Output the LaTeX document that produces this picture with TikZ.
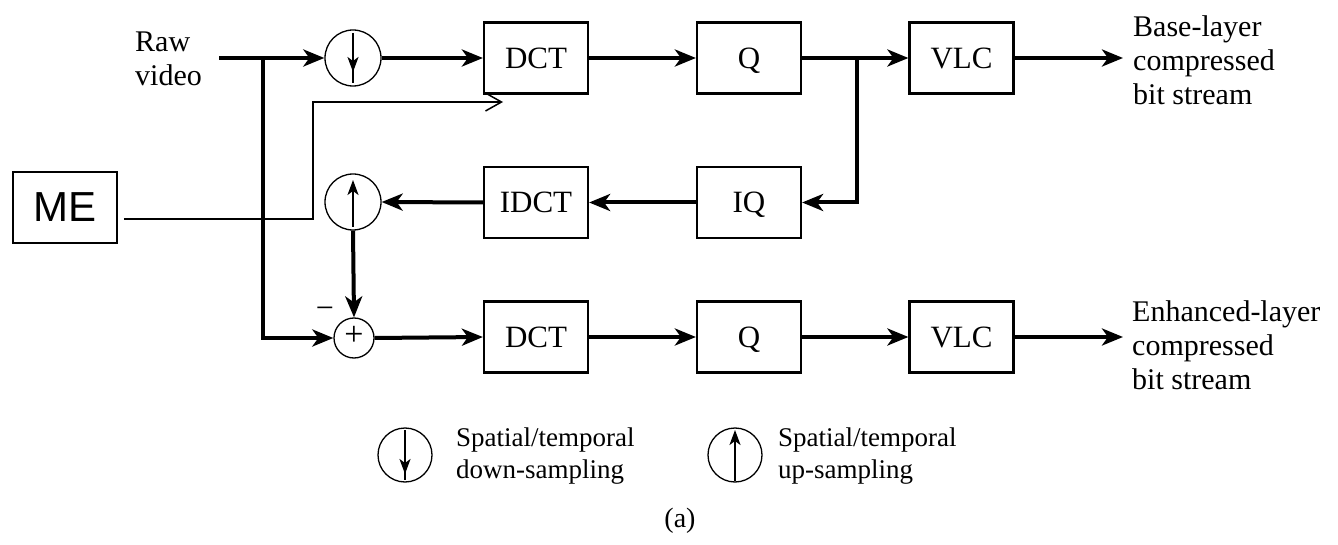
\documentclass[tikz,border=0pt]{standalone}
\usepackage{fontspec}
\setmainfont{Liberation Serif}
\newfontfamily\arialfont{Liberation Sans}
\usetikzlibrary{arrows.meta,calc}
\tikzset{
  blk/.style={draw, line width=2.2pt, minimum width=104pt, minimum height=71pt, inner sep=0pt, text height=20.5pt, text depth=0pt, font=\fontsize{31}{33}\selectfont},
  samp/.style={draw, circle, line width=1.3pt, minimum size=56pt, inner sep=0pt},
  legc/.style={draw, circle, line width=1.3pt, minimum size=54pt, inner sep=0pt},
  thk/.style={line width=4pt},
  arr/.style={line width=4pt, -{Stealth[length=21pt,width=17pt,inset=6pt]}},
  inarr/.style={line width=1.8pt, -{Stealth[length=15pt,width=11pt,inset=4pt]}},
  melink/.style={line width=1.5pt, -{Straight Barb[length=16pt,width=18pt,line width=1.5pt]}},
  lbl/.style={align=left, inner sep=0pt, font=\fontsize{30}{34}\selectfont},
  leglbl/.style={align=left, inner sep=0pt, font=\fontsize{27}{32}\selectfont}
}
\begin{document}
\begin{tikzpicture}[x=1pt,y=-1pt]
\useasboundingbox (0,0) rectangle (1338,545);
% boxes
\node[blk] (dct1) at (536,58) {DCT};
\node[blk] (q1) at (749,58) {Q};
\node[blk] (vlc1) at (961.5,58) {VLC};
\node[blk] (idct) at (536,202.5) {IDCT};
\node[blk] (iq) at (749,202.5) {IQ};
\node[blk] (dct2) at (536,337) {DCT};
\node[blk] (q2) at (749,337) {Q};
\node[blk] (vlc2) at (961.5,337) {VLC};
\node[draw, line width=1.5pt, minimum width=104pt, minimum height=71pt, inner sep=0pt, font=\arialfont\fontsize{42}{44}\selectfont] (me) at (65,207.5) {ME};
% sampling circles and adder
\node[samp] (down) at (353,58) {};
\node[samp] (up) at (353,202) {};
\node[draw, circle, line width=1.3pt, minimum size=40pt, inner sep=0pt] (adder) at (354,338) {};
\node[font=\fontsize{34}{34}\selectfont, inner sep=0pt] (plus) at (354,336) {+};
\node[font=\fontsize{32}{32}\selectfont, inner sep=0pt] (minus) at (325,313) {−};
\draw[inarr] (353,33) -- (353,72);
\draw[line width=1.8pt] (353,68) -- (353,83);
\draw[inarr] (353,227) -- (353,180);
% texts
\node[lbl, anchor=west] (raw) at (135,59) {Raw\\video};
\node[lbl, anchor=west] (base) at (1133,60) {Base-layer\\compressed\\bit stream};
\node[lbl, anchor=west] (enh) at (1132,345) {Enhanced-layer\\compressed\\bit stream};
% coordinates
\coordinate (rawstart) at (219,58);
\coordinate (br) at (263,58);
\coordinate (br2) at (857,58);
\coordinate (out1) at (1123,58);
\coordinate (out2) at (1123,337);
% connectors
\draw[thk] (rawstart) -- (br);
\draw[arr] (br) -- (down.west);
\draw[arr] (br) |- (adder.west);
\draw[arr] (down.east) -- (dct1.west);
\draw[arr] (dct1.east) -- (q1.west);
\draw[thk] (q1.east) -- (br2);
\draw[arr] (br2) -- (vlc1.west);
\draw[arr] (br2) |- (iq.east);
\draw[arr] (vlc1.east) -- (out1);
\draw[arr] (iq.west) -- (idct.east);
\draw[arr] (idct.west) -- (up.east);
\draw[arr] (up.south) -- (adder.north);
\draw[arr] (adder.east) -- (dct2.west);
\draw[arr] (dct2.east) -- (q2.west);
\draw[arr] (q2.east) -- (vlc2.west);
\draw[arr] (vlc2.east) -- (out2);
% ME link
\coordinate (meend) at (503,102);
\draw[melink] ($(me.east)+(6,11.5)$) -- (313,219) -- (313,102) -- (meend);
% legend
\node[legc] (lg1) at (405,455) {};
\draw[inarr] (405,430) -- (405,474);
\draw[line width=1.8pt] (405,470) -- (405,480);
\node[leglbl, anchor=west] (lt1) at (456,456) {Spatial/temporal\\down-sampling};
\node[legc] (lg2) at (735,455) {};
\draw[inarr] (735,481) -- (735,430);
\node[leglbl, anchor=west] (lt2) at (778,456) {Spatial/temporal\\up-sampling};
\node[font=\fontsize{28}{30}\selectfont, inner sep=0pt] (cap) at (680,521) {(a)};
\end{tikzpicture}
\end{document}
